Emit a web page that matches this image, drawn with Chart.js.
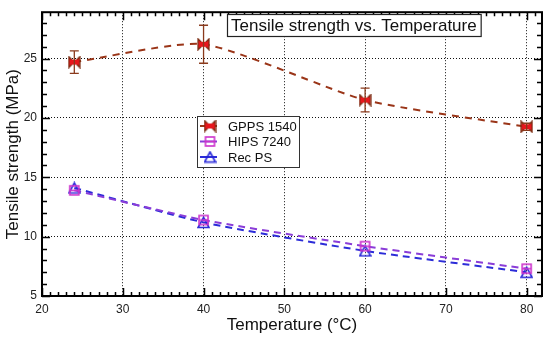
<!DOCTYPE html>
<html>
<head>
<meta charset="utf-8">
<script src="https://cdn.jsdelivr.net/npm/chart.js@4/dist/chart.umd.min.js"></script>
<style>
  html, body { margin: 0; padding: 0; background: #fff; }
  canvas { display: block; }
</style>
</head>
<body>
<canvas id="c" width="550" height="339"></canvas>
<script>
// ---- data ----
const temps = [24, 40, 60, 80];
const gppsVals = [24.7, 26.2, 21.5, 19.25];
const gppsErr = [0.95, 1.6, 1.0, 0.3];
const hipsVals = [13.9, 11.4, 9.2, 7.3];
const recVals = [14.1, 11.2, 8.8, 7.0];
const seriesLabels = ['GPPS 1540', 'HIPS 7240', 'Rec PS'];
const xTicks = [20, 30, 40, 50, 60, 70, 80];
const yTicks = [5, 10, 15, 20, 25];
const chartTitle = 'Tensile strength vs. Temperature';
const xTitle = 'Temperature (°C)';
const yTitle = 'Tensile strength (MPa)';

const FONT = '"Liberation Sans", Arial, sans-serif';

// ---- marker canvases ----
function mk(w, h, fn) {
  const c = document.createElement('canvas');
  c.width = w; c.height = h;
  fn(c.getContext('2d'));
  return c;
}
const bowtie = mk(13, 13, g => {
  g.fillStyle = '#e8161c';
  g.strokeStyle = '#7a2a10';
  g.lineWidth = 1.2;
  g.beginPath();
  g.moveTo(1, 1); g.lineTo(6.5, 6.5); g.lineTo(1, 12); g.closePath();
  g.moveTo(12, 1); g.lineTo(6.5, 6.5); g.lineTo(12, 12); g.closePath();
  g.fill(); g.stroke();
  g.fillRect(3, 4, 7, 5);
});
const sqLine = mk(13, 13, g => {
  g.strokeStyle = '#cc33cc';
  g.lineWidth = 1.6;
  g.strokeRect(2, 2, 9, 9);
  g.beginPath(); g.moveTo(2, 6.5); g.lineTo(11, 6.5); g.stroke();
});
const triOpen = mk(13, 13, g => {
  g.strokeStyle = '#2424d8';
  g.lineWidth = 1.6;
  g.beginPath();
  g.moveTo(6.5, 1.5); g.lineTo(12, 11.5); g.lineTo(1, 11.5); g.closePath();
  g.stroke();
});

const toPts = vals => temps.map((t, i) => ({ x: t, y: vals[i] }));

const datasets = [
  { label: seriesLabels[0], data: toPts(gppsVals), borderColor: '#9a3518', pointStyle: bowtie, borderDash: [7, 6] },
  { label: seriesLabels[1], data: toPts(hipsVals), borderColor: '#8a3cd8', pointStyle: sqLine, borderDash: [7, 5] },
  { label: seriesLabels[2], data: toPts(recVals), borderColor: '#2c2cd8', pointStyle: triOpen, borderDash: [7, 5] }
].map(d => Object.assign({
  borderWidth: 2,
  fill: false,
  tension: 0.2,
  pointRadius: 6,
  pointHoverRadius: 6,
  backgroundColor: d.borderColor
}, d));

// ---- plugins ----
const errorBars = {
  id: 'errorBars',
  afterDatasetsDraw(chart) {
    const { ctx, scales: { x, y } } = chart;
    ctx.save();
    ctx.strokeStyle = '#8a3a1c';
    ctx.lineWidth = 1.3;
    temps.forEach((t, i) => {
      const px = x.getPixelForValue(t);
      const top = y.getPixelForValue(gppsVals[i] + gppsErr[i]);
      const bot = y.getPixelForValue(gppsVals[i] - gppsErr[i]);
      ctx.beginPath();
      ctx.moveTo(px, top); ctx.lineTo(px, bot);
      ctx.moveTo(px - 4.5, top); ctx.lineTo(px + 4.5, top);
      ctx.moveTo(px - 4.5, bot); ctx.lineTo(px + 4.5, bot);
      ctx.stroke();
    });
    ctx.restore();
  }
};

const frameAndDecor = {
  id: 'frameAndDecor',
  afterDraw(chart) {
    const { ctx, chartArea: a, scales: { x, y } } = chart;
    ctx.save();
    // inward ticks
    ctx.strokeStyle = '#000';
    ctx.lineWidth = 1.5;
    ctx.beginPath();
    for (let v = Math.ceil(x.min); v <= x.max; v++) {
      const px = Math.round(x.getPixelForValue(v)) + 0.5;
      const len = v % 10 === 0 ? 8 : 4;
      ctx.moveTo(px, a.bottom); ctx.lineTo(px, a.bottom - len);
      ctx.moveTo(px, a.top); ctx.lineTo(px, a.top + len);
    }
    for (let v = Math.ceil(y.min); v <= y.max; v++) {
      const py = Math.round(y.getPixelForValue(v)) + 0.5;
      const len = v % 5 === 0 ? 8 : 5;
      ctx.moveTo(a.left, py); ctx.lineTo(a.left + len, py);
      ctx.moveTo(a.right, py); ctx.lineTo(a.right - len, py);
    }
    ctx.stroke();
    // frame
    ctx.lineWidth = 2;
    ctx.strokeRect(a.left, a.top, a.right - a.left, a.bottom - a.top);

    // title box
    ctx.font = '17px ' + FONT;
    ctx.textBaseline = 'middle';
    ctx.textAlign = 'left';
    const tw = ctx.measureText(chartTitle).width;
    const bx = 227, by = 14, bw = tw + 8, bh = 22;
    ctx.fillStyle = '#fff';
    ctx.fillRect(bx, by, bw, bh);
    ctx.lineWidth = 1.2;
    ctx.strokeStyle = '#222';
    ctx.strokeRect(bx + 0.5, by + 0.5, bw, bh);
    ctx.fillStyle = '#111';
    ctx.fillText(chartTitle, bx + 4, by + bh / 2 + 1);

    // legend box
    const lx = 197, ly = 116, lw = 102, lh = 51;
    ctx.fillStyle = '#fff';
    ctx.fillRect(lx, ly, lw, lh);
    ctx.strokeStyle = '#333';
    ctx.lineWidth = 1;
    ctx.strokeRect(lx + 0.5, ly + 0.5, lw, lh);
    ctx.font = '13px ' + FONT;
    chart.data.datasets.forEach((ds, i) => {
      const cy = ly + 10 + i * 15.5;
      ctx.strokeStyle = ds.borderColor;
      ctx.lineWidth = 2;
      ctx.beginPath();
      ctx.moveTo(lx + 3, cy); ctx.lineTo(lx + 20, cy);
      ctx.stroke();
      ctx.drawImage(ds.pointStyle, lx + 13 - 6.5, cy - 6.5);
      ctx.fillStyle = '#111';
      ctx.fillText(ds.label, lx + 31, cy + 1);
    });
    ctx.restore();
  }
};

new Chart(document.getElementById('c'), {
  type: 'line',
  data: { datasets },
  options: {
    responsive: false,
    devicePixelRatio: 1,
    animation: false,
    layout: { padding: { top: 9, right: 7, left: 0, bottom: 0 } },
    plugins: { legend: { display: false }, tooltip: { enabled: false } },
    scales: {
      x: {
        type: 'linear',
        min: 20, max: 81.9,
        afterBuildTicks: s => { s.ticks = xTicks.map(v => ({ value: v })); },
        afterFit: s => { s.height = 43; },
        grid: { color: '#111', lineWidth: 1, drawTicks: false },
        border: { display: false, dash: [1, 2] },
        ticks: { color: '#222', padding: 6, font: { size: 12, family: FONT } },
        title: { display: true, text: xTitle, color: '#111', font: { size: 17, family: FONT }, padding: { top: 2, bottom: 3 } }
      },
      y: {
        type: 'linear',
        min: 5, max: 28.9,
        afterBuildTicks: s => { s.ticks = yTicks.map(v => ({ value: v })); },
        afterFit: s => { s.width = 42; },
        grid: { color: '#111', lineWidth: 1, drawTicks: false },
        border: { display: false, dash: [1, 2] },
        ticks: { color: '#222', padding: 5, font: { size: 12, family: FONT } },
        title: { display: true, text: yTitle, color: '#111', font: { size: 17, family: FONT }, padding: { top: 3, bottom: 4 } }
      }
    }
  },
  plugins: [errorBars, frameAndDecor]
});
</script>
</body>
</html>
